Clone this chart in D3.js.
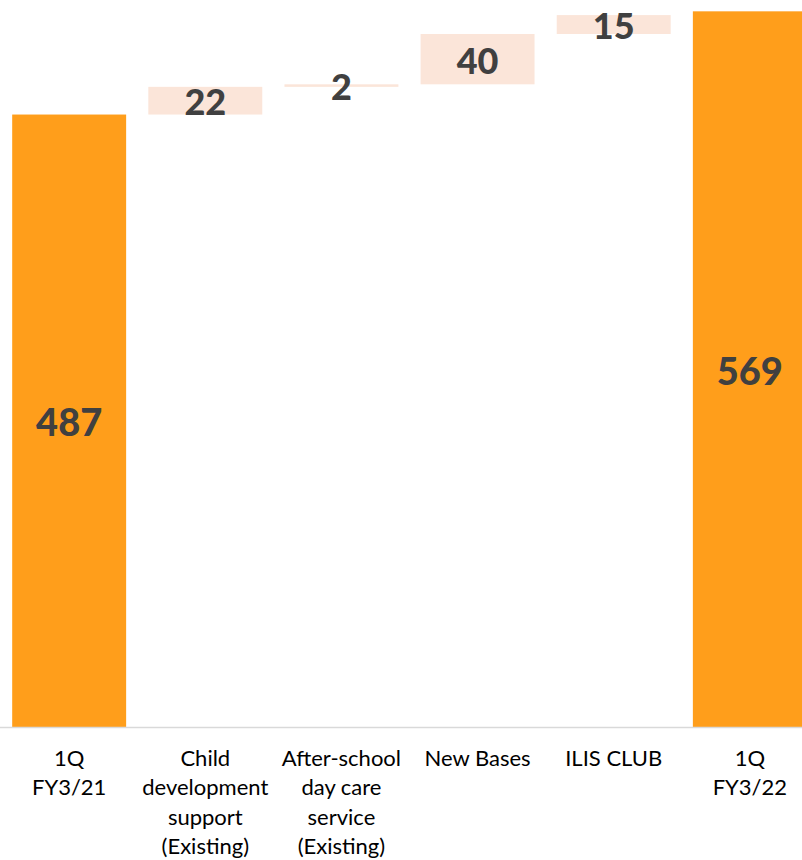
<!DOCTYPE html>
<html lang="en">
<head>
  <meta charset="UTF-8" />
  <title>Waterfall 1Q FY3/21 to 1Q FY3/22</title>
  <script src="https://d3js.org/d3.v7.min.js"></script>
  <style>
    body {
      margin: 0;
      background: white;
    }
    svg {
      display: block;
    }
    .cat text {
      font-family: Lato, sans-serif;
      font-size: 22px;
      fill: #000;
    }
    .val {
      font-family: Lato, sans-serif;
      font-weight: 900;
      fill: #404040;
    }
  </style>
</head>
<body>
  <svg></svg>

  <script>
    // categories, one label line per array item
    const categories = [
      ["1Q", "FY3/21"],
      ["Child", "development", "support", "(Existing)"],
      ["After-school", "day care", "service", "(Existing)"],
      ["New Bases"],
      ["ILIS CLUB"],
      ["1Q", "FY3/22"]
    ];
    const values = [487, 22, 2, 40, 15, 569];
    const kinds = ["total", "step", "step", "step", "step", "total"];

    const width = 802, height = 860;
    const baseY = 727.5;

    const svg = d3.select("svg").attr("width", width).attr("height", height);

    // running start/end for each bar
    let run = 0;
    const bars = values.map((v, i) => {
      let b;
      if (kinds[i] === "total") {
        b = { i, v, lo: 0, hi: v, kind: "total" };
        run = v;
      } else {
        b = { i, v, lo: run, hi: run + v, kind: "step" };
        run += v;
      }
      return b;
    });

    const x = d3.scaleBand()
      .domain(d3.range(categories.length))
      .range([-10, 829])
      .padding(0.163);

    const y = d3.scaleLinear()
      .domain([0, 578])
      .range([baseY, 0]);

    svg.append("g")
      .selectAll("rect")
      .data(bars)
      .join("rect")
      .attr("x", d => x(d.i))
      .attr("width", x.bandwidth())
      .attr("y", d => y(d.hi))
      .attr("height", d => y(d.lo) - y(d.hi))
      .attr("fill", d => d.kind === "total" ? "#FF9E1B" : "#FBE5D9");

    // axis line
    svg.append("line")
      .attr("x1", 0).attr("x2", width)
      .attr("y1", baseY).attr("y2", baseY)
      .attr("stroke", "#d9d9d9")
      .attr("stroke-width", 1.5);

    // value labels, centred in each bar (totals a touch bigger)
    const fs = d => d.kind === "total" ? 38 : 36;
    svg.append("g")
      .selectAll("text")
      .data(bars)
      .join("text")
      .attr("class", "val")
      .attr("text-anchor", "middle")
      .style("font-size", d => fs(d) + "px")
      .attr("x", d => x(d.i) + x.bandwidth() / 2)
      .attr("y", d => (y(d.lo) + y(d.hi)) / 2 + 1.5 + fs(d) * 0.36)
      .text(d => d.v);

    // category labels
    const cat = svg.append("g")
      .attr("class", "cat")
      .selectAll("text")
      .data(categories)
      .join("text")
      .attr("text-anchor", "middle")
      .attr("transform", (d, i) => `translate(${x(i) + x.bandwidth() / 2},765.7)`);

    cat.selectAll("tspan")
      .data(d => d)
      .join("tspan")
      .attr("x", 0)
      .attr("y", (d, j) => j * 29.5)
      .text(d => d);
  </script>
</body>
</html>
